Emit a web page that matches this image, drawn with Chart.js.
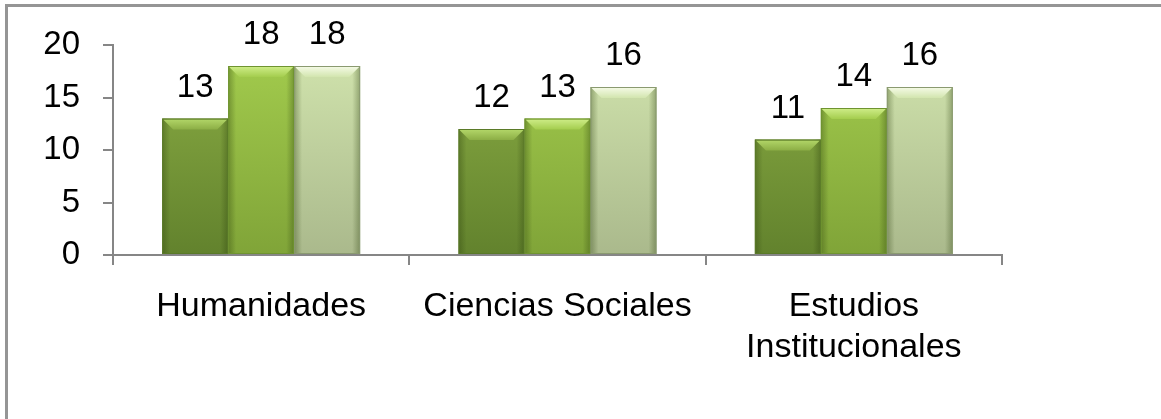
<!DOCTYPE html>
<html>
<head>
<meta charset="utf-8">
<script src="https://cdn.jsdelivr.net/npm/chart.js@4/dist/chart.umd.min.js"></script>
<style>
  html, body { margin: 0; padding: 0; background: #fff; }
  #marco { position: absolute; left: 5px; top: 4px; width: 1200px; height: 500px; border: 3px solid #959595; }
  #contenedor { position: absolute; left: 0; top: 0; width: 1161px; height: 419px; }
</style>
</head>
<body>
<div id="marco"></div>
<div id="contenedor"><canvas id="myChart" width="1161" height="419"></canvas></div>
<script>
// datos
const categorias = ["Humanidades", "Ciencias Sociales", ["Estudios", "Institucionales"]];
const serie1 = [13, 12, 11];
const serie2 = [18, 13, 14];
const serie3 = [18, 16, 16];
const ticksY = [0, 5, 10, 15, 20];

// colores de cada serie: arriba, abajo, brillo, borde
const colores = [
  { arriba: "#8cae45", abajo: "#62822d", brillo: "#b4d86a", borde: "#5a7a28" },
  { arriba: "#a4cd4e", abajo: "#80a438", brillo: "#d0ee8a", borde: "#6f9430" },
  { arriba: "#d2e5ae", abajo: "#aab98c", brillo: "#f6fbe8", borde: "#8a9a70" }
];

const fuente = "'Liberation Sans', Arial, sans-serif";
const grafica = document.getElementById("myChart").getContext("2d");

function relleno(i) {
  return (ctx) => {
    const area = ctx.chart.chartArea;
    if (!area) return colores[i].arriba;
    const g = ctx.chart.ctx.createLinearGradient(0, area.top, 0, area.bottom);
    g.addColorStop(0, colores[i].arriba);
    g.addColorStop(1, colores[i].abajo);
    return g;
  };
}

// efecto de bisel sobre las barras
const bisel = {
  id: "bisel",
  afterDatasetsDraw(chart) {
    const c = chart.ctx;
    chart.data.datasets.forEach((ds, i) => {
      const meta = chart.getDatasetMeta(i);
      meta.data.forEach((bar) => {
        const izq = bar.x - bar.width / 2;
        const der = bar.x + bar.width / 2;
        const arriba = bar.y;
        const abajo = bar.base;
        const b = 11;
        c.save();
        // lados oscuros
        const g = c.createLinearGradient(izq, 0, der, 0);
        g.addColorStop(0, "rgba(40,60,10,0.35)");
        g.addColorStop(0.12, "rgba(40,60,10,0.0)");
        g.addColorStop(0.88, "rgba(40,60,10,0.0)");
        g.addColorStop(1, "rgba(40,60,10,0.35)");
        c.fillStyle = g;
        c.fillRect(izq, arriba, der - izq, abajo - arriba);
        // brillo arriba
        c.beginPath();
        c.moveTo(izq + 1, arriba + 1);
        c.lineTo(der - 1, arriba + 1);
        c.lineTo(der - b, arriba + b);
        c.lineTo(izq + b, arriba + b);
        c.closePath();
        const gb = c.createLinearGradient(0, arriba, 0, arriba + b);
        gb.addColorStop(0, colores[i].brillo);
        gb.addColorStop(1, colores[i].arriba);
        c.fillStyle = gb;
        c.fill();
        // borde
        c.strokeStyle = colores[i].borde;
        c.lineWidth = 1;
        c.strokeRect(izq + 0.5, arriba + 0.5, der - izq - 1, abajo - arriba - 1);
        c.restore();
      });
    });
  }
};

// etiquetas con el valor arriba de cada barra
const etiquetas = {
  id: "etiquetas",
  afterDatasetsDraw(chart) {
    const c = chart.ctx;
    c.save();
    c.font = "33px " + fuente;
    c.fillStyle = "#000";
    c.textAlign = "center";
    c.textBaseline = "alphabetic";
    chart.data.datasets.forEach((ds, i) => {
      chart.getDatasetMeta(i).data.forEach((bar, j) => {
        c.fillText(ds.data[j], bar.x, bar.y - 22);
      });
    });
    c.restore();
  }
};

const myChart = new Chart(grafica, {
  type: "bar",
  data: {
    labels: categorias,
    datasets: [
      { label: "Serie 1", data: serie1, backgroundColor: relleno(0), borderWidth: 0 },
      { label: "Serie 2", data: serie2, backgroundColor: relleno(1), borderWidth: 0 },
      { label: "Serie 3", data: serie3, backgroundColor: relleno(2), borderWidth: 0 }
    ]
  },
  options: {
    responsive: false,
    animation: false,
    layout: { padding: { left: 0, right: 159, top: 45, bottom: 0 } },
    datasets: { bar: { categoryPercentage: 0.668, barPercentage: 1 } },
    plugins: { legend: { display: false }, tooltip: { enabled: false } },
    scales: {
      x: {
        afterFit: (s) => { s.height = 164; },
        grid: { drawOnChartArea: false, drawTicks: true, tickLength: 10, color: "#868686", lineWidth: 2, offset: true },
        border: { color: "#868686", width: 2 },
        ticks: { color: "#000", font: { family: fuente, size: 34, lineHeight: 1.18 }, padding: 22, maxRotation: 0 }
      },
      y: {
        min: 0,
        max: 20,
        afterFit: (s) => { s.width = 113; },
        afterBuildTicks: (s) => { s.ticks = ticksY.map((v) => ({ value: v })); },
        grid: { drawOnChartArea: false, drawTicks: true, tickLength: 10, color: "#868686", lineWidth: 2 },
        border: { color: "#868686", width: 2 },
        ticks: { color: "#000", font: { family: fuente, size: 33 }, padding: 23 }
      }
    }
  },
  plugins: [bisel, etiquetas]
});
</script>
</body>
</html>
